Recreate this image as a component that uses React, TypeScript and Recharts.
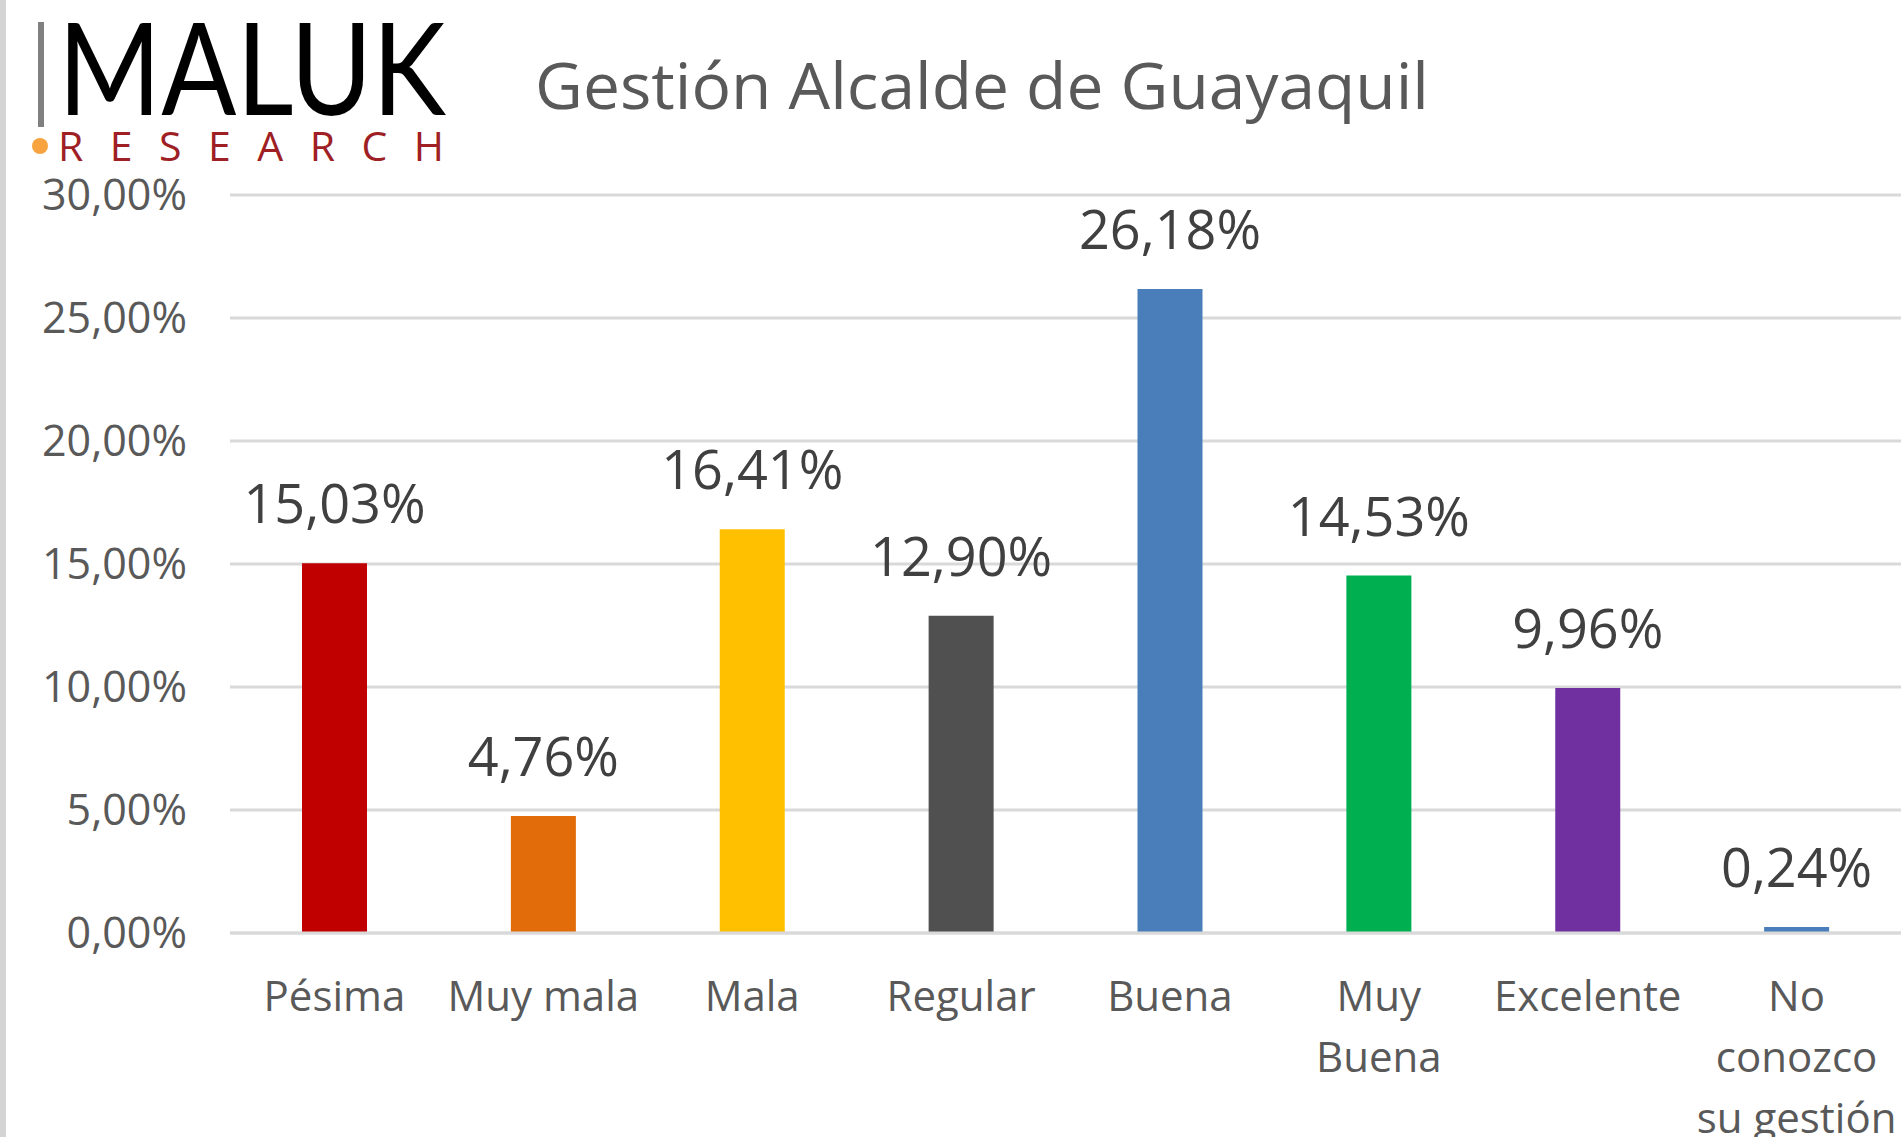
import React from "react";
import { BarChart, Bar, XAxis, YAxis, CartesianGrid, Cell, LabelList } from "recharts";

const categories = ["Pésima", "Muy mala", "Mala", "Regular", "Buena", "Muy Buena", "Excelente", "No conozco su gestión"];
const categoryLines = [["Pésima"], ["Muy mala"], ["Mala"], ["Regular"], ["Buena"], ["Muy", "Buena"], ["Excelente"], ["No", "conozco", "su gestión"]];
const values = [15.03, 4.76, 16.41, 12.9, 26.18, 14.53, 9.96, 0.24];
const barColors = ["#C00000", "#E26B0A", "#FFC000", "#505050", "#4A7EBB", "#00B050", "#7030A0", "#4A7EBB"];
const yTicks = [0, 5, 10, 15, 20, 25, 30];

const data = categories.map((c, i) => ({ name: c, value: values[i], idx: i }));

const fmt = (v: number) => v.toFixed(2).replace(".", ",") + "%";

const FONT = "'Open Sans', 'Noto Sans', sans-serif";

const XTick = (props: any) => {
  const { x, y, index } = props;
  const lines = categoryLines[index] || [String(props.payload?.value)];
  return (
    <text x={x} y={y} textAnchor="middle" fill="#595959" fontSize={42} fontFamily={FONT}>
      {lines.map((l: string, i: number) => (
        <tspan key={i} x={x} dy={i === 0 ? 78 : 61}>
          {l}
        </tspan>
      ))}
    </text>
  );
};

export default function App() {
  return (
    <div style={{ position: "absolute", left: 0, top: 0, width: 1901, height: 1137, background: "#fff", overflow: "hidden" }}>
      <div style={{ position: "absolute", left: 0, top: 0, width: 6, height: 1137, background: "#d4d4d4" }} />
      <BarChart width={1901} height={1137} data={data} margin={{ top: 195, right: 0, bottom: 0, left: 2 }}>
        <CartesianGrid vertical={false} stroke="#d9d9d9" strokeWidth={3} />
        <XAxis
          dataKey="name"
          height={204}
          tickSize={0}
          tickMargin={0}
          interval={0}
          axisLine={{ stroke: "#d9d9d9", strokeWidth: 3 }}
          tickLine={false}
          tick={XTick}
        />
        <YAxis
          width={228}
          domain={[0, 30]}
          ticks={yTicks}
          interval={0}
          axisLine={false}
          tickLine={false}
          tickSize={0}
          tickMargin={43}
          tickFormatter={fmt}
          tick={{ fill: "#595959", fontSize: 43, fontFamily: FONT }}
        />
        <Bar dataKey="value" barSize={65} isAnimationActive={false}>
          {data.map((d, i) => (
            <Cell key={i} fill={barColors[i]} />
          ))}
          <LabelList
            dataKey="value"
            position="top"
            offset={40}
            formatter={(v: any) => fmt(Number(v))}
            style={{ fill: "#404040", fontSize: 54, fontFamily: FONT }}
          />
        </Bar>
      </BarChart>
      <svg style={{ position: "absolute", left: 0, top: 0 }} width={1901} height={200}>
        <rect x={38} y={22} width={6} height={105} fill="#808080" />
        <text x={58} y={115} fontFamily="Lato, 'Open Sans', sans-serif" fontWeight={400} fontSize={128} fill="#000" textLength={388} lengthAdjust="spacingAndGlyphs">
          MALUK
        </text>
        <circle cx={40} cy={146} r={8} fill="#F7A440" />
        <text x={58} y={161} fontFamily="'Open Sans', sans-serif" fontSize={41} fill="#9E1F24" textLength={386} lengthAdjust="spacing">
          RESEARCH
        </text>
        <text x={535} y={109} fontFamily={FONT} fontSize={64} fill="#595959" textLength={894} lengthAdjust="spacingAndGlyphs">
          Gestión Alcalde de Guayaquil
        </text>
      </svg>
    </div>
  );
}
